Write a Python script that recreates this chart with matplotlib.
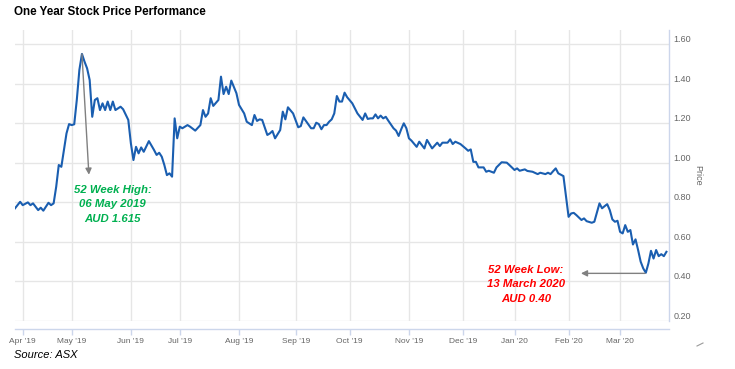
import matplotlib
matplotlib.use('Agg')
import matplotlib.pyplot as plt
from matplotlib.lines import Line2D

plt.rcParams['font.family'] = ['Liberation Sans', 'DejaVu Sans']

# trading-day index (0 = 27 Mar 2019) and closing price
days = [0, 2, 3, 5, 6, 7, 8, 9, 10, 11, 12, 13, 14, 15, 16, 17, 18, 19, 20, 21,
        22, 23, 24, 25, 26, 27, 28, 29, 30, 31, 32, 33, 34, 35, 36, 37, 38, 39, 41, 42, 44,
        45, 46, 47, 48, 49, 50, 52, 54, 55, 56, 57, 58, 59, 60, 61, 62, 63,
        64, 65, 67, 68, 70, 72, 73, 74, 75, 76, 77, 79, 80, 81, 82, 83, 84, 86,
        87, 89, 90, 92, 93, 94, 95, 96, 98, 99, 100, 101, 103, 104, 105, 106, 108,
        110, 111, 112, 115, 116, 117, 118, 119, 120, 121, 122, 123, 124, 125, 126, 127, 128, 129,
        131, 133, 135, 136, 137, 138, 139, 140, 141, 142, 143, 144, 145, 147, 148, 149, 150, 151, 152,
        153, 154, 156, 157, 159, 160, 162, 164, 165, 166, 168, 169, 170, 171, 173,
        175, 176, 177, 178, 179, 180, 182, 183, 184, 186, 187, 189, 191, 192,
        194, 195, 196, 198, 199, 201, 203, 204, 206, 207, 208, 209, 210, 211, 213, 214,
        215, 216, 217, 218, 220, 221, 222, 224, 225, 227, 228, 229, 230, 231, 232, 233, 234,
        235, 236, 237, 238, 239, 240, 241, 242, 243, 244, 245, 246, 247, 248, 249, 250, 251, 252, 253]
prices = [0.770, 0.803, 0.786, 0.800, 0.786, 0.795, 0.778, 0.761, 0.773, 0.758, 0.778, 0.798, 0.786, 0.795, 0.879, 0.989, 0.980, 1.065, 1.149, 1.196,
          1.191, 1.195, 1.318, 1.470, 1.551, 1.512, 1.478, 1.419, 1.233, 1.318, 1.327, 1.267, 1.301, 1.267, 1.310, 1.267, 1.310, 1.267, 1.284, 1.271, 1.217,
          1.099, 1.014, 1.081, 1.048, 1.078, 1.056, 1.110, 1.065, 1.040, 1.051, 1.031, 0.989, 0.938, 0.947, 0.930, 1.225, 1.124,
          1.183, 1.175, 1.191, 1.183, 1.163, 1.191, 1.267, 1.233, 1.250, 1.327, 1.288, 1.318, 1.436, 1.348, 1.385, 1.348, 1.416, 1.352,
          1.293, 1.250, 1.208, 1.191, 1.242, 1.212, 1.220, 1.217, 1.141, 1.149, 1.161, 1.124, 1.166, 1.259, 1.220, 1.281, 1.250,
          1.180, 1.186, 1.230, 1.175, 1.175, 1.203, 1.196, 1.170, 1.191, 1.191, 1.208, 1.220, 1.250, 1.338, 1.310, 1.310, 1.355, 1.332,
          1.301, 1.250, 1.217, 1.250, 1.222, 1.225, 1.225, 1.245, 1.225, 1.239, 1.225, 1.233, 1.213, 1.175, 1.163, 1.136, 1.170, 1.200, 1.175,
          1.124, 1.112, 1.081, 1.107, 1.073, 1.116, 1.073, 1.102, 1.085, 1.102, 1.102, 1.119, 1.095, 1.107, 1.095,
          1.073, 1.061, 1.068, 1.005, 1.005, 0.977, 0.977, 0.955, 0.960, 0.950, 0.977, 1.003, 1.001, 0.989,
          0.964, 0.972, 0.960, 0.967, 0.959, 0.955, 0.943, 0.950, 0.943, 0.950, 0.943, 0.958, 0.972, 0.947, 0.933, 0.828,
          0.727, 0.744, 0.747, 0.736, 0.711, 0.719, 0.705, 0.697, 0.702, 0.795, 0.770, 0.781, 0.791, 0.761, 0.714, 0.702, 0.707,
          0.651, 0.643, 0.685, 0.651, 0.660, 0.587, 0.613, 0.559, 0.500, 0.466, 0.444, 0.491, 0.555, 0.516, 0.559, 0.528, 0.538, 0.528, 0.550]

month_days = [3, 22, 45, 64, 87, 109, 130, 153, 174, 194, 215, 235]
month_labels = ["Apr '19", "May '19", "Jun '19", "Jul '19", "Aug '19", "Sep '19",
                "Oct '19", "Nov '19", "Dec '19", "Jan '20", "Feb '20", "Mar '20"]
price_ticks = [0.2, 0.4, 0.6, 0.8, 1.0, 1.2, 1.4, 1.6]

high_text = '52 Week High:\n06 May 2019\nAUD 1.615'
low_text = '52 Week Low:\n13 March 2020\nAUD 0.40'

axis_col = '#ccd6eb'
grid_col = '#e6e6e6'
label_col = '#666666'

fig = plt.figure(figsize=(7.35, 3.69), dpi=100)
ax = fig.add_axes([15 / 735, 48 / 369, 654 / 735, 291 / 369])

ax.plot(days, prices, color='#1a5eb0', lw=1.5, zorder=3)

ax.set_xlim(0, 254)
ax.set_ylim(0.2, 1.672)
ax.set_xticks(month_days)
ax.set_xticklabels(month_labels)
ax.set_yticks(price_ticks)
ax.set_yticklabels(['%.2f' % v for v in price_ticks])
ax.grid(True, color=grid_col, lw=1)
ax.set_axisbelow(True)

for s in ['left', 'top']:
    ax.spines[s].set_visible(False)
ax.spines['right'].set_color(axis_col)
ax.spines['right'].set_linewidth(1)
ax.spines['bottom'].set_color(axis_col)
ax.spines['bottom'].set_linewidth(1)
ax.spines['bottom'].set_position(('outward', 5.8))

ax.yaxis.tick_right()
ax.yaxis.set_label_position('right')
ax.tick_params(axis='y', length=0, pad=3, labelsize=6.5, labelcolor=label_col)
ax.tick_params(axis='x', length=4.3, width=1, color=axis_col, pad=2,
               labelsize=6, labelcolor=label_col)
for t in ax.get_yticklabels():
    t.set_verticalalignment('bottom')
ax.set_ylabel('Price', rotation=270, color=label_col, fontsize=6.5, labelpad=8)

# 52 week high / low call-outs
i_hi = prices.index(max(prices))
i_lo = prices.index(min(prices))
arrow = dict(arrowstyle='-|>', color='#808080', lw=1, mutation_scale=9,
             shrinkA=0, shrinkB=0)
ax.annotate('', xy=(28.7, 0.94), xytext=(days[i_hi], prices[i_hi]), arrowprops=arrow, zorder=4)
ax.annotate('', xy=(219.8, 0.441), xytext=(days[i_lo] - 0.3, 0.441), arrowprops=arrow, zorder=4)

ax.text(38, 0.79, high_text, color='#00b050', fontsize=8.2, fontweight='bold',
        style='italic', ha='center', va='center', linespacing=1.6)
ax.text(198.5, 0.385, low_text, color='#ff0000', fontsize=8.2, fontweight='bold',
        style='italic', ha='center', va='center', linespacing=1.6)

fig.text(14 / 735, 1 - 12 / 369, 'One Year Stock Price Performance', fontsize=8.4,
         fontweight='bold', va='center', ha='left')
fig.text(14 / 735, 1 - 355 / 369, 'Source: ASX', fontsize=8, style='italic',
         va='center', ha='left')

# small resize mark in the corner
fig.add_artist(Line2D([697 / 735, 703 / 735], [1 - 346 / 369, 1 - 343 / 369],
                      color='#999999', lw=0.8))

fig.savefig('out.png', dpi=100)
